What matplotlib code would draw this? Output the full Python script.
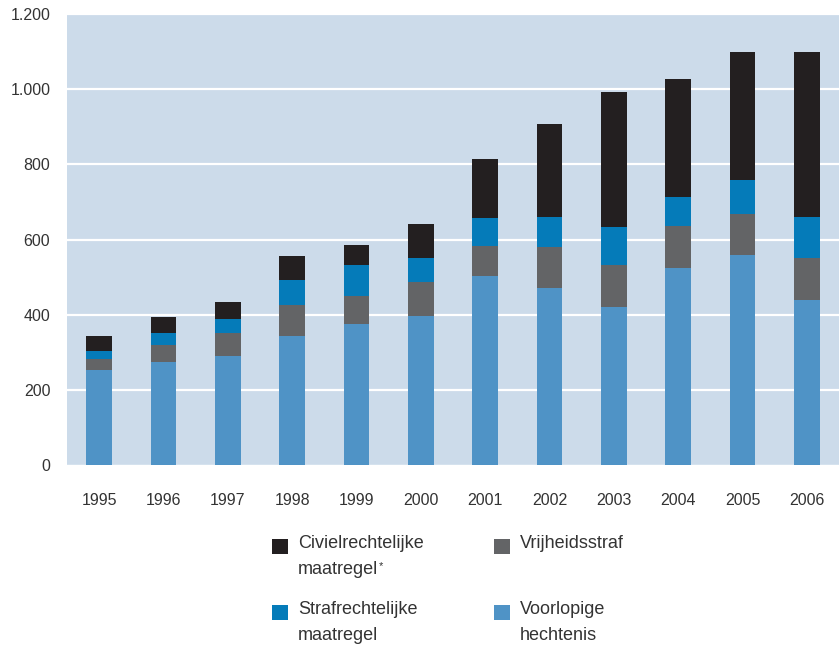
import matplotlib
matplotlib.use("Agg")
import matplotlib.pyplot as plt
from matplotlib.patches import Rectangle
import numpy as np

years = ["1995", "1996", "1997", "1998", "1999", "2000", "2001", "2002", "2003", "2004", "2005", "2006"]
voorlopige = [252, 275, 289, 344, 376, 397, 502, 470, 420, 523, 560, 438]
vrijheid = [29, 43, 61, 83, 74, 89, 82, 109, 111, 114, 109, 113]
strafrecht = [21, 32, 39, 66, 82, 65, 72, 82, 101, 75, 88, 108]
civiel = [40, 45, 45, 63, 53, 90, 157, 245, 361, 316, 343, 441]

series = [voorlopige, vrijheid, strafrecht, civiel]
colors = ["#4f93c6", "#636466", "#057bb9", "#231f20"]
labels = ["Voorlopige\nhechtenis", "Vrijheidsstraf", "Strafrechtelijke\nmaatregel", "Civielrechtelijke\nmaatregel"]
footnote_marks = ["", "", "", "*"]
yticks = [0, 200, 400, 600, 800, 1000, 1200]
yticklabels = ["0", "200", "400", "600", "800", "1.000", "1.200"]

plt.rcParams['font.family'] = ['Liberation Sans', 'DejaVu Sans']
fig = plt.figure(figsize=(8.39, 6.5), dpi=100)
W, H = 839, 650
ax = fig.add_axes([67 / W, 1 - 465 / H, (839 - 67) / W, (465 - 14) / H])
ax.set_facecolor("#ccdbea")
for s in ax.spines.values():
    s.set_visible(False)

x = np.arange(len(years))
bottom = np.zeros(len(years))
for vals, c in zip(series, colors):
    ax.bar(x, vals, width=0.40, bottom=bottom, color=c, zorder=3, linewidth=0)
    bottom += np.array(vals)

ax.set_xlim(-0.5, 11.5)
ax.set_ylim(0, 1200)
ax.set_yticks(yticks)
ax.set_yticklabels(yticklabels)
ax.set_xticks(x)
ax.set_xticklabels(years)
for t in yticks[1:]:
    ax.axhline(t, color="white", lw=1.6, zorder=1)
ax.axhline(0, color="white", lw=1.0, zorder=2)
ax.tick_params(axis="y", length=0, pad=12, labelsize=11.5, labelcolor="#333333")
ax.tick_params(axis="x", length=0, pad=20, labelsize=11.5, labelcolor="#333333")

# legend (manual 2x2 layout)
legend_order = [3, 1, 2, 0]
positions = [(272, 539), (494, 539), (272, 605), (494, 605)]
renderer = fig.canvas.get_renderer()
for idx, (px, py) in zip(legend_order, positions):
    fig.patches.append(Rectangle((px / W, 1 - (py + 15) / H), 16 / W, 15 / H,
                                 transform=fig.transFigure, color=colors[idx], linewidth=0))
    lines = labels[idx].split("\n")
    for k, line in enumerate(lines):
        t = fig.text((px + 26) / W, 1 - (py - 4 + 26 * k) / H, line, ha="left", va="top",
                     fontsize=13, color="#333333")
        if k == len(lines) - 1 and footnote_marks[idx]:
            bb = t.get_window_extent(renderer=renderer)
            fig.text((bb.x1 + 1) / W, 1 - (py - 4 + 26 * k) / H, footnote_marks[idx],
                     ha="left", va="top", fontsize=8, color="#333333")

fig.savefig("out.png", dpi=100)
